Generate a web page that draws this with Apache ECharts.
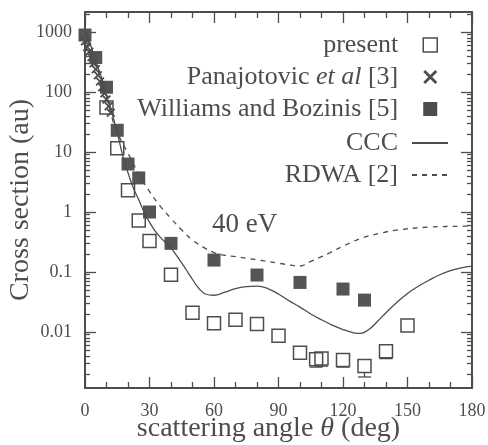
<!DOCTYPE html>
<html>
<head>
<meta charset="utf-8">
<script src="https://cdn.jsdelivr.net/npm/echarts@6/dist/echarts.min.js"></script>
<style>
  html, body { margin: 0; padding: 0; background: #fff; }
  #chart { width: 488px; height: 445px; }
</style>
</head>
<body>
<div id="chart"></div>
<script>
// present measurements (open squares)
const presentAngle = [10, 15, 20, 25, 30, 40, 50, 60, 70, 80, 90, 100, 107.5, 110, 120, 130, 140, 150];
const presentValue = [55, 11.5, 2.3, 0.72, 0.33, 0.09, 0.021, 0.014, 0.016, 0.0136, 0.0087, 0.0045, 0.0035, 0.0036, 0.0034, 0.0027, 0.0048, 0.0128];

// lower ends of the error bars that show below some squares
const errAngle = [107.5, 110, 120, 130, 140];
const errValue = [0.0035, 0.0036, 0.0034, 0.0027, 0.0048];
const errLow = [0.0026, 0.0027, 0.0026, 0.00178, 0.0036];

// Panajotovic et al [3] (crosses)
const panaAngle = [0, 1, 2, 3, 4, 5, 6, 7, 8, 9, 10, 11, 12];
const panaValue = [700, 560, 470, 380, 300, 240, 190, 150, 120, 95, 75, 58, 45];

// Williams and Bozinis [5] (filled squares)
const willAngle = [0, 5, 10, 15, 20, 25, 30, 40, 60, 80, 100, 120, 130];
const willValue = [890, 375, 120, 23, 6.3, 3.7, 1.0, 0.3, 0.158, 0.089, 0.067, 0.052, 0.034];

// CCC (solid)
const cccAngle = [0, 2, 5, 8, 10, 12, 15, 18, 20, 22.5, 25, 28, 30, 33, 36, 40, 44, 47, 50, 53, 56, 60, 65, 70, 75, 80, 85, 90, 95, 100, 105, 110, 115, 120, 125, 128, 132, 136, 140, 145, 150, 155, 160, 165, 170, 175, 180];
const cccValue = [1100, 700, 330, 160, 85, 52, 21, 7.5, 4.5, 2.5, 1.6, 0.9, 0.68, 0.46, 0.35, 0.25, 0.16, 0.11, 0.075, 0.053, 0.043, 0.041, 0.046, 0.053, 0.057, 0.058, 0.053, 0.043, 0.033, 0.026, 0.02, 0.016, 0.013, 0.011, 0.0097, 0.0095, 0.011, 0.015, 0.021, 0.031, 0.044, 0.058, 0.073, 0.09, 0.105, 0.117, 0.125];

// RDWA [2] (dashed)
const rdwaAngle = [0, 5, 10, 13, 15, 20, 25, 30, 35, 40, 45, 50, 55, 60, 65, 70, 80, 90, 100, 105, 110, 114, 120, 129, 137, 145, 160, 176, 180];
const rdwaValue = [1000, 300, 80, 33, 21, 9.5, 4.3, 2.2, 1.25, 0.78, 0.5, 0.34, 0.26, 0.21, 0.19, 0.18, 0.16, 0.14, 0.126, 0.15, 0.18, 0.21, 0.27, 0.37, 0.44, 0.5, 0.56, 0.58, 0.585];

const yMajorTicks = [0.01, 0.1, 1, 10, 100, 1000];
const yMinorTicks = [];
for (let e = -3; e <= 3; e++) {
  for (let m = 2; m <= 9; m++) {
    const v = +(m * Math.pow(10, e)).toPrecision(3);
    if (v > 0.00117 && v < 2150) yMinorTicks.push(v);
  }
}

const Y_MIN = 0.001166;
const Y_MAX = 2154;
const ink = "#4d4d4d";
const font = "Liberation Serif";
const SQ = 13;

function pairs(xs, ys) {
  return xs.map((x, i) => [x, ys[i]]);
}

const crossPath = "path://M0,1.4L1.4,0L5,3.6L8.6,0L10,1.4L6.4,5L10,8.6L8.6,10L5,6.4L1.4,10L0,8.6L3.6,5Z";

function yAxisBase(position, major) {
  return {
    type: "log",
    position: position,
    min: Y_MIN,
    max: Y_MAX,
    axisLine: { show: major, onZero: false, lineStyle: { color: ink, width: 2 } },
    axisTick: {
      show: true,
      inside: true,
      length: major ? 11 : 5,
      customValues: major ? yMajorTicks : yMinorTicks,
      lineStyle: { color: ink, width: 1.3 },
    },
    axisLabel: { show: false },
    splitLine: { show: false },
  };
}

const yLeft = yAxisBase("left", true);
yLeft.axisLabel = {
  show: true,
  customValues: yMajorTicks,
  margin: 13,
  color: ink,
  fontFamily: font,
  fontSize: 18,
  formatter: (v) => String(v),
};
yLeft.name = "Cross section (au)";
yLeft.nameLocation = "middle";
yLeft.nameGap = 50;
yLeft.nameMoveOverlap = false;
yLeft.nameTextStyle = { color: ink, fontFamily: font, fontSize: 28 };

function xAxisBase(position) {
  return {
    type: "value",
    position: position,
    min: 0,
    max: 180,
    interval: 30,
    axisLine: { show: true, onZero: false, lineStyle: { color: ink, width: 2 } },
    axisTick: { show: true, inside: true, length: 11, lineStyle: { color: ink, width: 1.3 } },
    minorTick: { show: true, splitNumber: 3, length: 6, lineStyle: { color: ink, width: 1.3 } },
    axisLabel: { show: false },
    splitLine: { show: false },
    minorSplitLine: { show: false },
  };
}

const xBottom = xAxisBase("bottom");
xBottom.axisLabel = { show: true, margin: 14, color: ink, fontFamily: font, fontSize: 18 };
xBottom.name = "{n|scattering angle }{i|θ}{n| (deg)}";
xBottom.nameLocation = "middle";
xBottom.nameGap = 27;
xBottom.nameMoveOverlap = false;
xBottom.nameTextStyle = {
  padding: [0, 20, 0, 0],
  rich: {
    n: { color: ink, fontFamily: font, fontSize: 28 },
    i: { color: ink, fontFamily: font, fontSize: 28, fontStyle: "italic" },
  },
};

const legendText = {
  color: ink,
  fontFamily: font,
  fontSize: 26,
  rich: {
    n: { color: ink, fontFamily: font, fontSize: 26 },
    i: { color: ink, fontFamily: font, fontSize: 26, fontStyle: "italic" },
  },
};

const chart = echarts.init(document.getElementById("chart"));
chart.setOption({
  backgroundColor: "#fff",
  animation: false,
  title: {
    text: "40 eV",
    left: 207,
    top: 206,
    textStyle: { color: ink, fontFamily: font, fontSize: 27, fontWeight: "normal" },
  },
  grid: { left: 85, right: 16, top: 12, bottom: 57, containLabel: false, outerBoundsMode: "none" },
  legend: [
    {
      orient: "vertical",
      align: "right",
      right: 45,
      top: 27,
      itemWidth: 14,
      itemHeight: 14,
      itemGap: 6,
      selectedMode: false,
      textStyle: Object.assign({ padding: [0, 20, 0, 0] }, legendText),
      formatter: (name) =>
        name === "Panajotovic et al [3]" ? "{n|Panajotovic }{i|et al}{n| [3]}" : "{n|" + name + "}",
      data: [
        { name: "present", itemStyle: { color: "rgba(0,0,0,0)", borderColor: ink, borderWidth: 1.5 } },
        { name: "Panajotovic et al [3]", itemStyle: { color: ink, borderWidth: 0 } },
        { name: "Williams and Bozinis [5]", itemStyle: { color: ink, borderWidth: 0 } },
      ],
    },
    {
      orient: "vertical",
      align: "right",
      right: 34,
      top: 125,
      itemWidth: 36,
      itemHeight: 14,
      itemGap: 6,
      selectedMode: false,
      textStyle: Object.assign({ padding: [0, 9, 0, 0] }, legendText),
      itemStyle: { color: "rgba(0,0,0,0)", borderWidth: 0 },
      data: ["CCC", "RDWA [2]"],
    },
  ],
  xAxis: [xBottom, xAxisBase("top")],
  yAxis: [yLeft, yAxisBase("left", false), yAxisBase("right", true), yAxisBase("right", false)],
  series: [
    {
      name: "CCC",
      type: "line",
      data: pairs(cccAngle, cccValue),
      smooth: 0.4,
      showSymbol: false,
      symbol: "none",
      lineStyle: { color: ink, width: 1.3 },
      itemStyle: { color: ink },
    },
    {
      name: "RDWA [2]",
      type: "line",
      data: pairs(rdwaAngle, rdwaValue),
      smooth: 0.4,
      showSymbol: false,
      symbol: "none",
      lineStyle: { color: ink, width: 1.3, type: [5, 5] },
      itemStyle: { color: ink },
    },
    {
      name: "Williams and Bozinis [5]",
      type: "scatter",
      data: pairs(willAngle, willValue),
      symbol: "rect",
      symbolSize: SQ,
      itemStyle: { color: "#555", opacity: 1 },
    },
    {
      name: "Panajotovic et al [3]",
      type: "scatter",
      data: pairs(panaAngle, panaValue),
      symbol: crossPath,
      symbolSize: 9,
      itemStyle: { color: ink, opacity: 1 },
    },
    {
      name: "present",
      type: "scatter",
      data: pairs(presentAngle, presentValue),
      symbol: "rect",
      symbolSize: SQ,
      itemStyle: { color: "rgba(0,0,0,0)", borderColor: ink, borderWidth: 1.5, opacity: 1 },
    },
    {
      name: "present error",
      type: "custom",
      data: errAngle.map((a, i) => [a, errValue[i], errLow[i]]),
      encode: { x: 0, y: 1 },
      renderItem: (params, api) => {
        const c = api.coord([api.value(0), api.value(1)]);
        const l = api.coord([api.value(0), api.value(2)]);
        const y0 = c[1] + SQ / 2;
        const y1 = Math.max(l[1], y0);
        const style = { stroke: ink, lineWidth: 1.3 };
        return {
          type: "group",
          children: [
            { type: "line", shape: { x1: c[0], y1: y0, x2: c[0], y2: y1 }, style: style },
            { type: "line", shape: { x1: c[0] - SQ / 2, y1: y1, x2: c[0] + SQ / 2, y2: y1 }, style: style },
          ],
        };
      },
    },
  ],
});
</script>
</body>
</html>
